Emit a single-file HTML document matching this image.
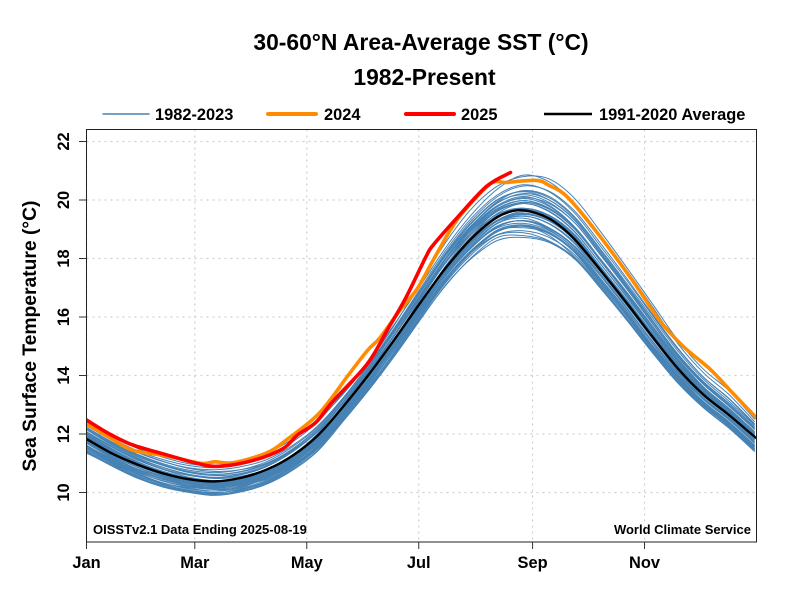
<!DOCTYPE html>
<html lang="en">
<head>
<meta charset="utf-8">
<title>30-60°N Area-Average SST</title>
<style>
html,body{margin:0;padding:0;background:#fff;}
svg{display:block;font-family:"Liberation Sans",Arial,sans-serif;font-weight:bold;fill:#000;}
</style>
</head>
<body>
<svg id="chart" width="800" height="600" viewBox="0 0 800 600" xmlns="http://www.w3.org/2000/svg">
  <defs><clipPath id="plot-clip"><rect x="86.5" y="129.5" width="670" height="412.5"/></clipPath></defs>
  <text x="421" y="50" text-anchor="middle" font-size="22.85">30-60°N Area-Average SST (°C)</text>
  <text x="424.5" y="85" text-anchor="middle" font-size="22.85">1982-Present</text>

  <g>
    <g>
      <line x1="102.5" x2="149.5" y1="114" y2="114" stroke="#4682b4" stroke-width="1.6"/>
      <text x="155" y="120" font-size="16.4">1982-2023</text>
    </g>
    <g>
      <line x1="268" x2="316" y1="114" y2="114" stroke="#ff8c00" stroke-width="4" stroke-linecap="round"/>
      <text x="324" y="120" font-size="16.4">2024</text>
    </g>
    <g>
      <line x1="406" x2="454" y1="114" y2="114" stroke="#ff0000" stroke-width="4" stroke-linecap="round"/>
      <text x="461" y="120" font-size="16.4">2025</text>
    </g>
    <g>
      <line x1="544" x2="592" y1="114" y2="114" stroke="#000" stroke-width="2.4"/>
      <text x="599" y="120" font-size="16.4">1991-2020 Average</text>
    </g>
  </g>

  <g id="grid"></g>
  <g id="series" clip-path="url(#plot-clip)"></g>
  <rect x="86.5" y="129.5" width="670" height="412.5" fill="none" stroke="#222" stroke-width="1"/>
  <g id="axes"></g>

  <text transform="translate(36,336) rotate(-90)" text-anchor="middle" font-size="19.3">Sea Surface Temperature (°C)</text>
  <text x="93" y="534" font-size="13">OISSTv2.1 Data Ending 2025-08-19</text>
  <text x="751" y="534" text-anchor="end" font-size="13">World Climate Service</text>
</svg>

<script>
const monthLabels = ["Jan","Mar","May","Jul","Sep","Nov"];
const monthDays = [0,59,120,181,243,304];
const tempTicks = [10,12,14,16,18,20,22];

const knotDays = [0,14,28,42,56,70,84,98,112,126,140,154,168,182,196,210,224,238,252,266,280,294,308,322,336,350,364];

const averageDays = [0,14,28,42,56,70,84,98,112,126,140,154,168,182,196,210,224,235,245,255,266,280,294,308,322,336,350,365];
const averageTemps = [11.83,11.33,10.95,10.65,10.45,10.38,10.50,10.78,11.25,11.95,12.95,14.05,15.25,16.50,17.70,18.70,19.42,19.65,19.55,19.25,18.65,17.60,16.50,15.35,14.25,13.35,12.65,11.85];

const days2024 = [0,12,25,44,62,70,80,98,109,125,134,142,153,160,171,180,189,198,205,220,229,245,252,262,278,298,312,325,340,352,365];
const temps2024 = [12.35,11.90,11.45,11.25,11.00,11.05,11.02,11.35,11.80,12.60,13.27,13.96,14.85,15.30,16.25,16.95,17.96,18.95,19.57,20.55,20.60,20.67,20.50,20.10,18.90,17.20,15.90,15.00,14.20,13.40,12.55];

const days2025 = [0,12,25,44,62,73,91,107,115,125,134,153,164,174,185,189,202,218,231];
const temps2025 = [12.48,12.02,11.63,11.28,10.97,10.90,11.10,11.50,11.97,12.40,13.10,14.40,15.57,16.66,18.07,18.47,19.40,20.47,20.94];

const t1982 = [11.35,10.92,10.50,10.22,10.05,9.98,10.12,10.38,10.90,11.55,12.60,13.70,14.90,16.15,17.35,18.25,18.95,19.05,18.85,18.20,17.10,16.05,14.95,13.85,13.00,12.30,11.50];
const t1983 = [11.55,11.02,10.62,10.30,10.18,10.10,10.18,10.50,10.98,11.70,12.72,13.85,15.00,16.28,17.50,18.45,19.20,19.38,19.05,18.40,17.30,16.20,15.05,14.02,13.10,12.38,11.60];
const t1984 = [11.62,11.10,10.70,10.38,10.20,10.15,10.30,10.55,11.00,11.68,12.65,13.72,14.88,16.10,17.28,18.22,18.82,18.95,18.72,18.12,17.05,15.98,14.85,13.78,12.95,12.28,11.45];
const t1985 = [11.42,10.95,10.55,10.28,10.02,9.95,10.05,10.32,10.82,11.50,12.48,13.60,14.82,16.05,17.32,18.30,18.92,19.10,18.78,18.05,17.02,15.92,14.80,13.75,12.90,12.20,11.40];
const t1986 = [11.38,10.90,10.48,10.18,10.00,9.90,10.02,10.30,10.78,11.45,12.50,13.55,14.75,16.00,17.20,18.15,18.80,18.88,18.60,18.02,17.00,15.95,14.85,13.80,12.98,12.25,11.42];
const t1987 = [11.45,10.98,10.52,10.25,10.06,9.92,10.08,10.35,10.85,11.52,12.55,13.65,14.80,16.02,17.25,18.28,18.98,19.15,18.90,18.25,17.18,16.10,14.98,13.92,13.05,12.35,11.55];
const t1988 = [11.60,11.15,10.72,10.45,10.22,10.18,10.25,10.52,11.02,11.72,12.70,13.82,14.98,16.22,17.42,18.40,19.12,19.28,18.98,18.30,17.22,16.12,15.00,13.95,13.08,12.36,11.58];
const t1989 = [11.52,11.05,10.65,10.32,10.15,10.05,10.20,10.50,10.95,11.62,12.62,13.78,15.02,16.30,17.48,18.42,19.05,19.20,18.95,18.32,17.25,16.15,15.05,14.00,13.12,12.42,11.62];
const t1990 = [11.62,11.12,10.75,10.48,10.30,10.22,10.32,10.60,11.08,11.75,12.78,13.90,15.08,16.32,17.55,18.50,19.22,19.45,19.18,18.50,17.42,16.32,15.18,14.10,13.22,12.50,11.72];
const t1991 = [11.70,11.20,10.78,10.46,10.26,10.20,10.28,10.55,11.02,11.66,12.65,13.75,14.92,16.15,17.35,18.30,18.95,19.12,18.85,18.22,17.18,16.12,15.02,13.98,13.10,12.40,11.60];
const t1992 = [11.58,11.08,10.68,10.40,10.20,10.12,10.22,10.48,10.92,11.58,12.52,13.58,14.72,15.95,17.10,18.05,18.72,18.78,18.58,18.00,16.98,15.92,14.82,13.80,12.92,12.22,11.40];
const t1993 = [11.40,10.92,10.50,10.20,10.02,9.92,10.02,10.28,10.75,11.42,12.45,13.52,14.68,15.92,17.12,18.02,18.62,18.72,18.55,17.98,17.00,15.98,14.88,13.85,13.00,12.30,11.48];
const t1994 = [11.50,11.00,10.58,10.28,10.08,10.00,10.10,10.38,10.88,11.55,12.60,13.72,14.92,16.20,17.42,18.38,19.08,19.30,19.02,18.38,17.32,16.25,15.12,14.05,13.18,12.48,11.68];
const t1995 = [11.68,11.18,10.76,10.44,10.25,10.15,10.26,10.52,11.00,11.70,12.75,13.88,15.10,16.38,17.60,18.60,19.28,19.45,19.20,18.55,17.48,16.35,15.20,14.12,13.22,12.52,11.72];
const t1996 = [11.72,11.22,10.80,10.52,10.30,10.20,10.25,10.45,10.88,11.55,12.50,13.62,14.78,16.02,17.25,18.22,18.92,19.12,18.88,18.20,17.12,16.05,14.92,13.88,13.02,12.32,11.52];
const t1997 = [11.55,11.05,10.62,10.32,10.12,10.05,10.15,10.42,10.90,11.60,12.65,13.80,15.05,16.35,17.60,18.62,19.30,19.55,19.30,18.62,17.55,16.42,15.28,14.20,13.30,12.60,11.80];
const t1998 = [11.82,11.30,10.90,10.60,10.40,10.32,10.42,10.70,11.18,11.88,12.88,14.00,15.20,16.45,17.65,18.62,19.32,19.52,19.28,18.62,17.55,16.45,15.30,14.22,13.32,12.62,11.82];
const t1999 = [11.85,11.35,10.92,10.60,10.38,10.28,10.38,10.62,11.10,11.80,12.85,13.98,15.20,16.48,17.72,18.72,19.42,19.68,19.42,18.75,17.68,16.58,15.42,14.32,13.42,12.70,11.90];
const t2000 = [11.90,11.40,10.96,10.65,10.42,10.35,10.42,10.68,11.12,11.78,12.78,13.88,15.02,16.25,17.42,18.40,19.10,19.30,19.05,18.42,17.40,16.32,15.20,14.15,13.25,12.55,11.75];
const t2001 = [11.75,11.25,10.85,10.52,10.32,10.25,10.35,10.62,11.12,11.85,12.88,14.02,15.25,16.52,17.75,18.75,19.48,19.72,19.48,18.80,17.72,16.62,15.48,14.38,13.45,12.75,11.95];
const t2002 = [11.95,11.45,11.02,10.72,10.50,10.40,10.50,10.78,11.25,11.92,12.92,14.05,15.22,16.48,17.72,18.78,19.55,19.88,19.60,18.90,17.82,16.70,15.55,14.42,13.50,12.78,11.98];
const t2003 = [11.98,11.48,11.05,10.70,10.46,10.38,10.45,10.70,11.20,11.95,13.02,14.18,15.42,16.72,18.00,19.00,19.72,19.98,19.72,19.02,17.92,16.78,15.60,14.48,13.52,12.80,12.00];
const t2004 = [11.98,11.45,11.00,10.68,10.45,10.36,10.46,10.72,11.20,11.88,12.90,13.98,15.15,16.42,17.68,18.72,19.42,19.70,19.48,18.82,17.72,16.60,15.45,14.35,13.42,12.70,11.90];
const t2005 = [11.90,11.38,10.95,10.62,10.40,10.30,10.40,10.68,11.18,11.90,12.95,14.12,15.38,16.68,17.92,18.92,19.62,19.88,19.62,18.92,17.82,16.72,15.55,14.42,13.48,12.75,11.95];
const t2006 = [11.92,11.42,10.98,10.66,10.42,10.32,10.42,10.66,11.15,11.88,12.98,14.15,15.42,16.75,18.02,18.98,19.65,19.92,19.68,19.00,17.92,16.80,15.62,14.52,13.58,12.85,12.05];
const t2007 = [12.05,11.55,11.12,10.80,10.58,10.50,10.60,10.88,11.38,12.08,13.08,14.22,15.42,16.68,17.88,18.85,19.52,19.72,19.45,18.78,17.70,16.58,15.42,14.32,13.40,12.68,11.88];
const t2008 = [11.88,11.38,10.95,10.65,10.44,10.38,10.46,10.72,11.18,11.85,12.82,13.92,15.08,16.32,17.55,18.55,19.28,19.50,19.28,18.62,17.58,16.48,15.32,14.25,13.35,12.62,11.80];
const t2009 = [11.78,11.28,10.86,10.55,10.32,10.25,10.32,10.58,11.05,11.72,12.72,13.85,15.05,16.32,17.58,18.60,19.32,19.60,19.38,18.72,17.65,16.55,15.42,14.35,13.45,12.72,11.92];
const t2010 = [11.88,11.35,10.92,10.58,10.35,10.25,10.35,10.65,11.18,11.92,12.98,14.15,15.40,16.72,18.00,19.05,19.78,20.05,19.78,19.05,17.95,16.82,15.62,14.48,13.52,12.78,11.95];
const t2011 = [11.92,11.40,10.95,10.62,10.40,10.28,10.36,10.62,11.10,11.82,12.88,14.05,15.28,16.60,17.88,18.92,19.68,19.98,19.72,19.02,17.92,16.80,15.62,14.50,13.55,12.82,12.02];
const t2012 = [12.02,11.50,11.05,10.72,10.48,10.38,10.42,10.62,11.10,11.85,12.92,14.10,15.38,16.70,18.02,19.08,19.82,20.12,19.82,19.08,17.98,16.85,15.68,14.55,13.60,12.85,12.05];
const t2013 = [12.05,11.55,11.10,10.78,10.52,10.40,10.42,10.60,11.00,11.68,12.72,13.90,15.15,16.48,17.78,18.85,19.62,19.92,19.70,19.05,17.98,16.88,15.72,14.60,13.62,12.88,12.08];
const t2014 = [12.08,11.58,11.15,10.85,10.62,10.52,10.62,10.90,11.38,12.10,13.12,14.28,15.50,16.78,18.05,19.12,19.90,20.22,20.00,19.32,18.22,17.08,15.90,14.72,13.75,13.00,12.18];
const t2015 = [12.18,11.68,11.25,10.92,10.68,10.58,10.65,10.92,11.40,12.10,13.10,14.22,15.40,16.65,17.92,19.00,19.78,20.08,19.88,19.22,18.12,16.98,15.80,14.65,13.70,12.95,12.15];
const t2016 = [12.15,11.65,11.22,10.92,10.70,10.62,10.72,10.98,11.45,12.15,13.18,14.32,15.55,16.85,18.15,19.22,20.00,20.30,20.08,19.38,18.28,17.12,15.92,14.75,13.80,13.05,12.22];
const t2017 = [12.22,11.72,11.30,10.98,10.76,10.68,10.78,11.05,11.55,12.25,13.25,14.38,15.58,16.85,18.12,19.15,19.92,20.18,19.92,19.22,18.12,17.00,15.82,14.68,13.72,12.98,12.18];
const t2018 = [12.15,11.62,11.18,10.85,10.60,10.48,10.55,10.80,11.28,12.02,13.10,14.30,15.58,16.90,18.18,19.25,20.02,20.28,20.00,19.30,18.18,17.05,15.88,14.75,13.78,13.05,12.25];
const t2019 = [12.22,11.72,11.28,10.95,10.72,10.62,10.70,10.96,11.42,12.08,13.08,14.18,15.38,16.68,18.00,19.12,19.95,20.32,20.12,19.42,18.32,17.18,16.00,14.85,13.88,13.12,12.30];
const t2020 = [12.28,11.78,11.36,11.05,10.84,10.78,10.88,11.12,11.60,12.28,13.25,14.38,15.62,16.92,18.22,19.32,20.12,20.48,20.30,19.62,18.52,17.35,16.12,14.95,13.95,13.20,12.32];
const t2021 = [12.30,11.80,11.38,11.06,10.82,10.72,10.78,11.00,11.48,12.20,13.22,14.40,15.65,16.98,18.30,19.40,20.18,20.52,20.28,19.55,18.42,17.28,16.08,14.92,13.95,13.22,12.35];
const t2022 = [12.32,11.85,11.42,11.12,10.92,10.85,10.95,11.22,11.72,12.42,13.42,14.55,15.78,17.08,18.40,19.52,20.38,20.85,20.62,19.88,18.78,17.62,16.38,15.10,14.10,13.35,12.42];
const t2023 = [12.40,11.92,11.50,11.20,10.98,10.92,11.02,11.32,11.82,12.48,13.38,14.48,15.75,17.18,18.58,19.72,20.48,20.80,20.72,20.05,18.92,17.72,16.48,15.22,14.22,13.48,12.50];

const blueSeries = [t1982,t1983,t1984,t1985,t1986,t1987,t1988,t1989,t1990,t1991,t1992,t1993,t1994,t1995,t1996,t1997,t1998,t1999,t2000,t2001,t2002,t2003,t2004,t2005,t2006,t2007,t2008,t2009,t2010,t2011,t2012,t2013,t2014,t2015,t2016,t2017,t2018,t2019,t2020,t2021,t2022,t2023];
const firstBlueYear = 1982;

const NS = "http://www.w3.org/2000/svg";
function xScale(day){ return 86.5 + day * (670 / 365); }
function yScale(temp){ return 492.5 - (temp - 10) * 29.25; }
function svgEl(tag, attrs, parent){
  const node = document.createElementNS(NS, tag);
  for (const key in attrs) node.setAttribute(key, attrs[key]);
  parent.appendChild(node);
  return node;
}
function linePath(days, temps){
  const xs = days.map(xScale);
  const ys = temps.map(yScale);
  let d = "M" + xs[0].toFixed(2) + " " + ys[0].toFixed(2);
  for (let i = 0; i < xs.length - 1; i++) {
    const a = Math.max(i - 1, 0);
    const b = Math.min(i + 2, xs.length - 1);
    const c1x = xs[i] + (xs[i + 1] - xs[a]) / 6;
    const c1y = ys[i] + (ys[i + 1] - ys[a]) / 6;
    const c2x = xs[i + 1] - (xs[b] - xs[i]) / 6;
    const c2y = ys[i + 1] - (ys[b] - ys[i]) / 6;
    d += "C" + c1x.toFixed(2) + " " + c1y.toFixed(2) + " " + c2x.toFixed(2) + " " + c2y.toFixed(2) + " " + xs[i + 1].toFixed(2) + " " + ys[i + 1].toFixed(2);
  }
  return d;
}

const gridLayer = document.getElementById("grid");
const seriesLayer = document.getElementById("series");
const axesLayer = document.getElementById("axes");

monthDays.forEach(function(day, i){
  const x = xScale(day);
  const gridLine = svgEl("line", {x1:x, x2:x, y1:129.5, y2:542, stroke:"#cfcfcf", "stroke-width":1.2, "stroke-dasharray":"2 4"}, gridLayer);
  
  
  const tick = svgEl("line", {x1:x, x2:x, y1:542, y2:549, stroke:"#333", "stroke-width":1}, axesLayer);
  
  
  const label = svgEl("text", {x:x, y:568, "text-anchor":"middle", "font-size":16.4}, axesLayer);
  label.textContent = monthLabels[i];
  
  
});

tempTicks.forEach(function(temp){
  const y = yScale(temp);
  const gridLine = svgEl("line", {x1:86.5, x2:756.5, y1:y, y2:y, stroke:"#cfcfcf", "stroke-width":1.2, "stroke-dasharray":"2 4"}, gridLayer);
  
  
  const tick = svgEl("line", {x1:79, x2:86.5, y1:y, y2:y, stroke:"#333", "stroke-width":1}, axesLayer);
  
  
  const label = svgEl("text", {transform:"translate(69," + y + ") rotate(-90)", "text-anchor":"middle", "font-size":16.4}, axesLayer);
  label.textContent = temp;
  
  
});

blueSeries.forEach(function(temps, i){
  const yearLine = svgEl("path", {d:linePath(knotDays, temps), fill:"none", stroke:"#4682b4", "stroke-width":1, "stroke-linejoin":"round"}, seriesLayer);
  
  
});

const line2024 = svgEl("path", {d:linePath(days2024, temps2024), fill:"none", stroke:"#ff8c00", "stroke-width":3.6, "stroke-linejoin":"round", "stroke-linecap":"round"}, seriesLayer);



const lineAverage = svgEl("path", {d:linePath(averageDays, averageTemps), fill:"none", stroke:"#000", "stroke-width":2.4, "stroke-linejoin":"round"}, seriesLayer);



const line2025 = svgEl("path", {d:linePath(days2025, temps2025), fill:"none", stroke:"#ff0000", "stroke-width":3.6, "stroke-linejoin":"round", "stroke-linecap":"round"}, seriesLayer);


</script>
</body>
</html>
